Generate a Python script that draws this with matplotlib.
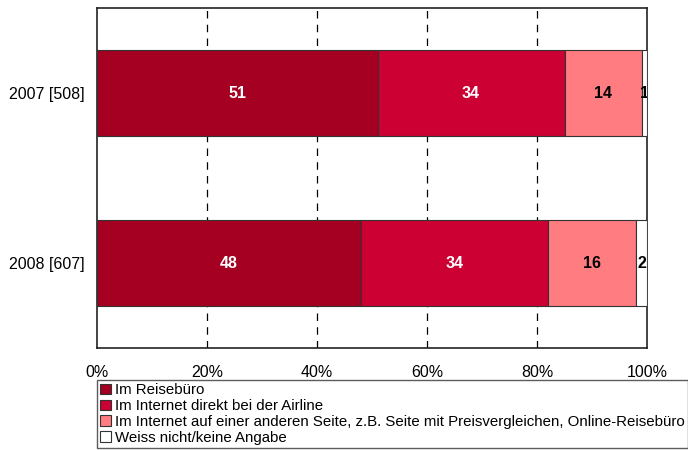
import matplotlib.pyplot as plt
import numpy as np

plt.rcParams['font.family'] = ['Liberation Sans', 'DejaVu Sans']

# Daten
jahre = ['2007 [508]', '2008 [607]']
kategorien = ['Im Reisebüro',
              'Im Internet direkt bei der Airline',
              'Im Internet auf einer anderen Seite, z.B. Seite mit Preisvergleichen, Online-Reisebüro',
              'Weiss nicht/keine Angabe']
reisebuero = [51, 48]
airline = [34, 34]
andere_seite = [14, 16]
weiss_nicht = [1, 2]

farben = ['#A50021', '#CC0033', '#FF7C80', '#FFFFFF']
textfarben = ['white', 'white', 'black', 'black']

fig = plt.figure(figsize=(6.88, 4.5), dpi=100)
ax = fig.add_axes([97 / 688, 102 / 450, 550 / 688, 340 / 450])

y = np.arange(len(jahre))
links = np.zeros(len(jahre))
for werte, name, farbe, tf in zip([reisebuero, airline, andere_seite, weiss_nicht],
                                  kategorien, farben, textfarben):
    werte = np.array(werte)
    ax.barh(y, werte, left=links, height=0.51, color=farbe, edgecolor='#333333',
            linewidth=0.8, label=name, zorder=3)
    for i in range(len(y)):
        ax.text(links[i] + werte[i] / 2, y[i], str(werte[i]), ha='center', va='center',
                color=tf, fontsize=11.5, fontweight='bold', zorder=4, clip_on=True)
    links += werte

ax.set_xlim(0, 100)
ax.set_ylim(1.5, -0.5)
ax.set_yticks(y)
ax.set_yticklabels(jahre, fontsize=11.5)
ax.set_xticks([0, 20, 40, 60, 80, 100])
ax.set_xticklabels(['0%', '20%', '40%', '60%', '80%', '100%'], fontsize=11.5)
ax.tick_params(length=0, pad=9)
ax.tick_params(axis='x', pad=12)
for x in [20, 40, 60, 80]:
    ax.axvline(x, color='black', linewidth=0.9, linestyle=(0, (6, 5)), zorder=1)
for s in ax.spines.values():
    s.set_color('#222222')
    s.set_linewidth(1.2)

leg = fig.legend(loc='upper left', bbox_to_anchor=(97 / 688, 1 - 380 / 450),
                 fontsize=10.8, frameon=True, fancybox=False, edgecolor='#333333',
                 handlelength=0.7, handleheight=0.7, handletextpad=0.3,
                 labelspacing=0.12, borderpad=0.22, borderaxespad=0)
leg.get_frame().set_linewidth(1.0)

fig.savefig('out.png', dpi=100)
